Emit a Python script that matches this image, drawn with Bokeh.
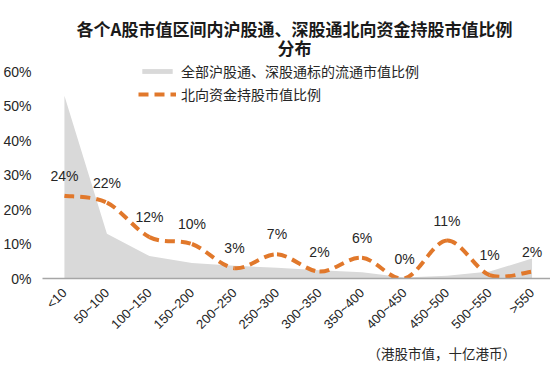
import numpy as np
from bokeh.plotting import figure
from bokeh.models import (Range1d, FixedTicker, Label, Legend, LegendItem,
                          ColumnDataSource, NumeralTickFormatter, Title)
from bokeh.core.properties import value
from bokeh.embed import file_html
from bokeh.resources import INLINE

# ---- data ----
categories = ["<10", "50~100", "100~150", "150~200", "200~250", "250~300",
              "300~350", "350~400", "400~450", "450~500", "500~550", ">550"]
# share of float market cap of all connect-eligible stocks (grey area)
market_share = [0.53, 0.13, 0.065, 0.045, 0.037, 0.031, 0.024, 0.018,
                0.003, 0.008, 0.020, 0.058]
# northbound holding ratio (orange dashed line)
northbound = [0.24, 0.22, 0.12, 0.10, 0.03, 0.07, 0.02, 0.06,
              0.00, 0.11, 0.01, 0.02]
y_ticks = [0, 0.1, 0.2, 0.3, 0.4, 0.5, 0.6]

title_1 = "各个A股市值区间内沪股通、深股通北向资金持股市值比例"
title_2 = "分布"
legend_area = "全部沪股通、深股通标的流通市值比例"
legend_line = "北向资金持股市值比例"
unit_note = "（港股市值，十亿港币）"

ORANGE = "#E1782B"
GREY = "#D9D9D9"
CJK = "Noto Sans CJK SC"
LAT = "Liberation Sans"

xs = list(range(len(categories)))

p = figure(width=550, height=367,
           x_range=Range1d(-0.5155, 11.434), y_range=Range1d(0, 0.8058),
           output_backend="svg", toolbar_location=None,
           min_border_left=40, min_border_right=0,
           min_border_top=0, min_border_bottom=89)
p.outline_line_color = None
p.xgrid.grid_line_color = None
p.ygrid.grid_line_color = None
p.background_fill_color = "white"

# grey area
area = p.varea(x=xs, y1=0, y2=market_share, fill_color=GREY)

# smoothed dashed line through northbound values (Catmull-Rom -> Bezier)
n = len(northbound)
x0, y0, x1, y1, cx0, cy0, cx1, cy1 = [], [], [], [], [], [], [], []
for i in range(n - 1):
    ip = max(i - 1, 0)
    inn = min(i + 2, n - 1)
    x0.append(xs[i]); y0.append(northbound[i])
    x1.append(xs[i + 1]); y1.append(northbound[i + 1])
    cx0.append(xs[i] + (xs[i + 1] - xs[ip]) / 6)
    cy0.append(northbound[i] + (northbound[i + 1] - northbound[ip]) / 6)
    cx1.append(xs[i + 1] - (xs[inn] - xs[i]) / 6)
    cy1.append(northbound[i + 1] - (northbound[inn] - northbound[i]) / 6)
bz_src = ColumnDataSource(dict(x0=x0, y0=y0, x1=x1, y1=y1,
                               cx0=cx0, cy0=cy0, cx1=cx1, cy1=cy1))
line = p.bezier(x0="x0", y0="y0", x1="x1", y1="y1", cx0="cx0", cy0="cy0",
                cx1="cx1", cy1="cy1", source=bz_src, line_color=ORANGE,
                line_width=4, line_dash="10 6")

# data labels
lab_src = ColumnDataSource(dict(x=xs, y=northbound,
                                t=[f"{round(v * 100)}%" for v in northbound]))
p.text(x="x", y="y", text="t", source=lab_src, y_offset=-20,
       text_align="center", text_baseline="middle",
       text_font=value(LAT), text_font_size="14px", text_color="#262626")

# axes
p.xaxis.ticker = FixedTicker(ticks=xs)
p.xaxis.major_label_overrides = {i: c for i, c in enumerate(categories)}
p.xaxis.major_label_orientation = np.pi / 4
p.xaxis.major_tick_line_color = None
p.xaxis.minor_tick_line_color = None
p.xaxis.major_tick_out = 0
p.xaxis.major_tick_in = 0
p.xaxis.minor_tick_out = 0
p.xaxis.axis_line_color = "#A6A6A6"
p.xaxis.axis_line_width = 1.5
p.xaxis.major_label_text_font = LAT
p.xaxis.major_label_text_font_size = "13px"
p.xaxis.major_label_text_color = "#262626"
p.xaxis.major_label_standoff = 12

p.yaxis.ticker = FixedTicker(ticks=y_ticks)
p.yaxis.formatter = NumeralTickFormatter(format="0%")
p.yaxis.axis_line_color = None
p.yaxis.major_tick_line_color = None
p.yaxis.minor_tick_line_color = None
p.yaxis.major_tick_out = 0
p.yaxis.major_tick_in = 0
p.yaxis.minor_tick_out = 0
p.yaxis.major_label_text_font = LAT
p.yaxis.major_label_text_font_size = "14px"
p.yaxis.major_label_text_color = "#262626"
p.yaxis.major_label_standoff = 11

# legend
legend = Legend(items=[LegendItem(label=legend_area, renderers=[area]),
                       LegendItem(label=legend_line, renderers=[line])],
                location=(96, 174), orientation="vertical",
                glyph_width=38, glyph_height=6, label_height=14,
                label_standoff=5, spacing=3, padding=0, margin=0,
                border_line_color=None, background_fill_alpha=0,
                label_text_font=CJK, label_text_font_size="14px",
                label_text_color="#262626")
p.add_layout(legend)

# titles
p.add_layout(Label(x=252, y=250, x_units="screen", y_units="screen",
                   text=title_1, text_align="center", text_baseline="middle",
                   text_font=CJK, text_font_style="bold",
                   text_font_size="17px", text_color="#1a1a1a"))
p.add_layout(Label(x=252, y=231, x_units="screen", y_units="screen",
                   text=title_2, text_align="center", text_baseline="middle",
                   text_font=CJK, text_font_style="bold",
                   text_font_size="17px", text_color="#1a1a1a"))

# unit note below the axis
p.add_layout(Title(text=unit_note, align="left", offset=325,
                   text_font=CJK, text_font_size="13.5px",
                   text_font_style="normal", text_color="#262626",
                   standoff=0), "below")

open("out.html", "w").write(file_html(p, INLINE))
